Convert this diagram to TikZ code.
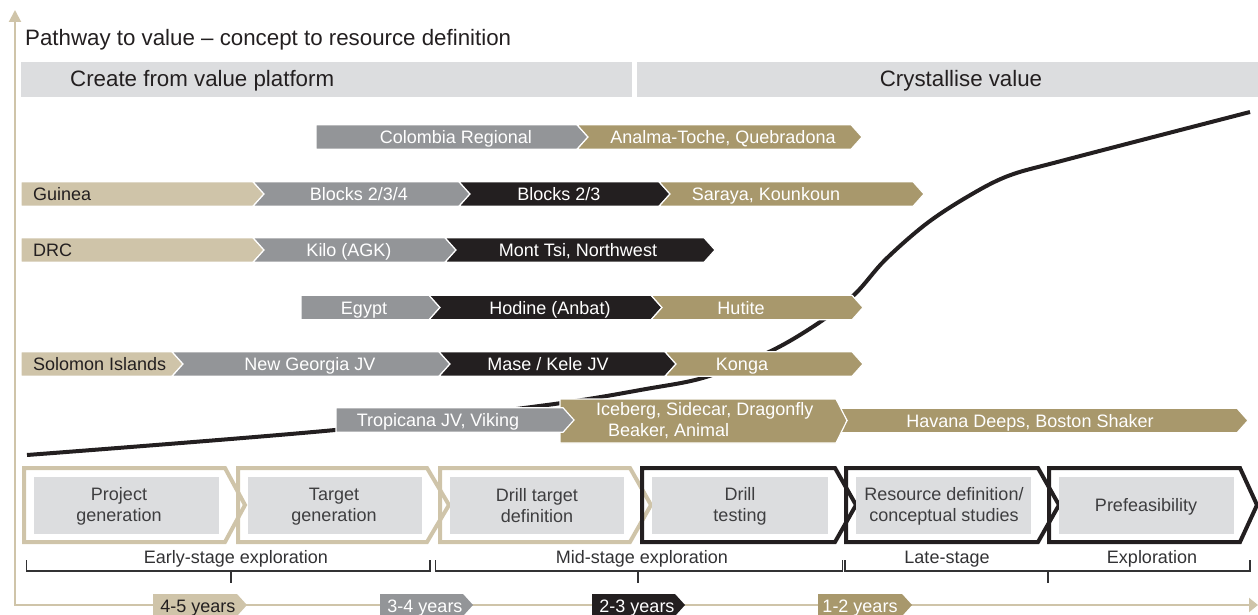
\documentclass[tikz,border=0pt]{standalone}
\usepackage{fontspec}
\setmainfont{Liberation Sans}
\usetikzlibrary{arrows.meta}
\definecolor{ltan}{RGB}{207,196,169}
\definecolor{dtan}{RGB}{168,152,108}
\definecolor{mgray}{RGB}{147,149,152}
\definecolor{nblack}{RGB}{35,31,32}
\definecolor{lgray}{RGB}{220,221,223}
\definecolor{tgray}{RGB}{62,62,64}
\definecolor{bgray}{RGB}{50,50,52}
\newcommand\rseg[5]{\filldraw[fill=#4, draw=white, line width=1.2pt] (#1,{#3-12.3}) -- (#2,{#3-12.3}) -- ({#2+11},#3) -- (#2,{#3+12.3}) -- (#1,{#3+12.3}) -- ({#1+#5},#3) -- cycle;}
\newcommand\stagechev[5]{\draw[#5, line width=4pt, line join=miter] (#1,468) -- (#2,468) -- (#3,505) -- (#2,542) -- (#1,542) -- cycle; \fill[lgray] ({#1+9.5},477) rectangle ({#2-#4},534);}
\newcommand\yearbox[3]{\fill[#3] (#1,594) -- (#2,594) -- ({#2+10},605) -- (#2,616) -- (#1,616) -- cycle;}
\begin{document}
\begin{tikzpicture}[x=1pt,y=-1pt,
  rowtxt/.style={font=\fontsize{18}{21}\selectfont, inner sep=0pt, anchor=base},
  stagetxt/.style={font=\fontsize{18}{21}\selectfont, inner sep=0pt, align=center, text=tgray},
  bigtxt/.style={font=\fontsize{22.3}{26}\selectfont, inner sep=0pt, text=nblack},
  brk/.style={draw=bgray, line width=1.3pt},
  brktxt/.style={font=\fontsize{18}{21}\selectfont, inner sep=0pt, anchor=base, text=bgray},
  yrtxt/.style={font=\fontsize{18}{21}\selectfont, inner sep=0pt, anchor=base}]
\useasboundingbox (0,0) rectangle (1258,615);
% axes
\coordinate (ytop) at (15,10);
\coordinate (orig) at (15,605);
\coordinate (xend) at (1258,605);
\draw[ltan, line width=2pt, {Triangle[length=12pt,width=12pt]}-{Triangle[length=9pt,width=14pt]}] (ytop) -- (orig) -- (xend);
% title
\node[bigtxt, anchor=base west] (title) at (25,46) {Pathway to value -- concept to resource definition};
% header bars
\fill[lgray] (21,62) rectangle (632,97);
\fill[lgray] (637,62) rectangle (1258,97);
\node[bigtxt, anchor=base west] (hcreate) at (70,87) {Create from value platform};
\node[bigtxt, anchor=base] (hcryst) at (961,87) {Crystallise value};
% value curve
\draw[nblack, line width=4pt] plot[smooth, tension=0.55] coordinates {(27,455) (335,430) (547,405) (646,389) (706,377) (771,351) (820,322) (855,294) (885,260) (926,224) (967,197) (1008,176) (1065,160) (1250,112)};
% rows
\rseg{316}{577}{137}{mgray}{0}
\rseg{577}{851}{137}{dtan}{11}
\rseg{21}{253}{194}{ltan}{0}
\rseg{253}{459}{194}{mgray}{11}
\rseg{459}{659}{194}{nblack}{11}
\rseg{659}{913}{194}{dtan}{11}
\rseg{21}{253}{250}{ltan}{0}
\rseg{253}{445}{250}{mgray}{11}
\rseg{445}{704}{250}{nblack}{11}
\rseg{301}{429}{307.5}{mgray}{0}
\rseg{429}{651}{307.5}{nblack}{11}
\rseg{651}{852}{307.5}{dtan}{11}
\rseg{21}{172}{364}{ltan}{0}
\rseg{172}{439}{364}{mgray}{11}
\rseg{439}{665}{364}{nblack}{11}
\rseg{665}{852}{364}{dtan}{11}
\rseg{836}{1237}{420.5}{dtan}{11}
\filldraw[fill=dtan, draw=white, line width=1.2pt] (560,399) -- (836,399) -- (847,420.5) -- (836,443) -- (560,443) -- cycle;
\rseg{336}{563}{420}{mgray}{0}
% row texts
\node[rowtxt, text=white] (colombia) at (456,143.5) {Colombia Regional};
\node[rowtxt, text=white] (analma) at (723,143.5) {Analma-Toche, Quebradona};
\node[rowtxt, text=nblack, anchor=base west] (guinea) at (33,200.5) {Guinea};
\node[rowtxt, text=white] (blocksa) at (359,200.5) {Blocks 2/3/4};
\node[rowtxt, text=white] (blocksb) at (559,200.5) {Blocks 2/3};
\node[rowtxt, text=white] (saraya) at (766,200.5) {Saraya, Kounkoun};
\node[rowtxt, text=nblack, anchor=base west] (drc) at (33,256.5) {DRC};
\node[rowtxt, text=white] (kilo) at (349,256.5) {Kilo (AGK)};
\node[rowtxt, text=white] (monttsi) at (578,256.5) {Mont Tsi, Northwest};
\node[rowtxt, text=white] (egypt) at (364,314) {Egypt};
\node[rowtxt, text=white] (hodine) at (550,314) {Hodine (Anbat)};
\node[rowtxt, text=white] (hutite) at (741,314) {Hutite};
\node[rowtxt, text=nblack, anchor=base west] (solomon) at (33,370.5) {Solomon Islands};
\node[rowtxt, text=white] (newgeorgia) at (310,370.5) {New Georgia JV};
\node[rowtxt, text=white] (mase) at (548,370.5) {Mase / Kele JV};
\node[rowtxt, text=white] (konga) at (742,370.5) {Konga};
\node[rowtxt, text=white] (tropicana) at (438,426.5) {Tropicana JV, Viking};
\node[rowtxt, text=white, anchor=west, align=left] (iceberg) at (596,421) {Iceberg, Sidecar, Dragonfly\\\hspace*{12pt}Beaker, Animal};
\node[rowtxt, text=white] (havana) at (1030,427) {Havana Deeps, Boston Shaker};
% stage chevrons
\stagechev{24}{225}{245}{6}{ltan}
\stagechev{238}{427}{449}{5}{ltan}
\stagechev{440}{630}{651}{6}{ltan}
\stagechev{642}{835}{856}{7}{nblack}
\stagechev{846}{1038}{1059}{7}{nblack}
\stagechev{1049}{1240}{1257}{6}{nblack}
\node[stagetxt] (projgen) at (119,506.5) {Project\\generation};
\node[stagetxt] (targen) at (334,506.5) {Target\\generation};
\node[stagetxt] (drilldef) at (537,505.5) {Drill target\\definition};
\node[stagetxt] (drilltest) at (740,506.5) {Drill\\testing};
\node[stagetxt] (resdef) at (944,506) {Resource definition/\\conceptual studies};
\node[stagetxt] (prefeas) at (1146,506.5) {Prefeasibility};
% brackets
\draw[brk] (26.5,560) -- (26.5,571) -- (430,571) -- (430,560);
\draw[brk] (231,571) -- (231,583);
\draw[brk] (435.5,560) -- (435.5,571) -- (842.5,571) -- (842.5,560);
\draw[brk] (638,571) -- (638,583);
\draw[brk] (845,560) -- (845,571) -- (1250,571) -- (1250,560);
\draw[brk] (1048,571) -- (1048,583);
\node[brktxt] (early) at (236,563) {Early-stage exploration};
\node[brktxt] (mid) at (642,563) {Mid-stage exploration};
\node[brktxt] (late) at (947,563) {Late-stage};
\node[brktxt] (explo) at (1152,563) {Exploration};
% years
\yearbox{153}{237}{ltan}
\yearbox{380}{463}{mgray}
\yearbox{592}{675}{nblack}
\yearbox{818}{902}{dtan}
\node[yrtxt, text=nblack] (y45) at (198,612) {4-5 years};
\node[yrtxt, text=white] (y34) at (425,612) {3-4 years};
\node[yrtxt, text=white] (y23) at (637,612) {2-3 years};
\node[yrtxt, text=white] (y12) at (860,612) {1-2 years};
\end{tikzpicture}
\end{document}
